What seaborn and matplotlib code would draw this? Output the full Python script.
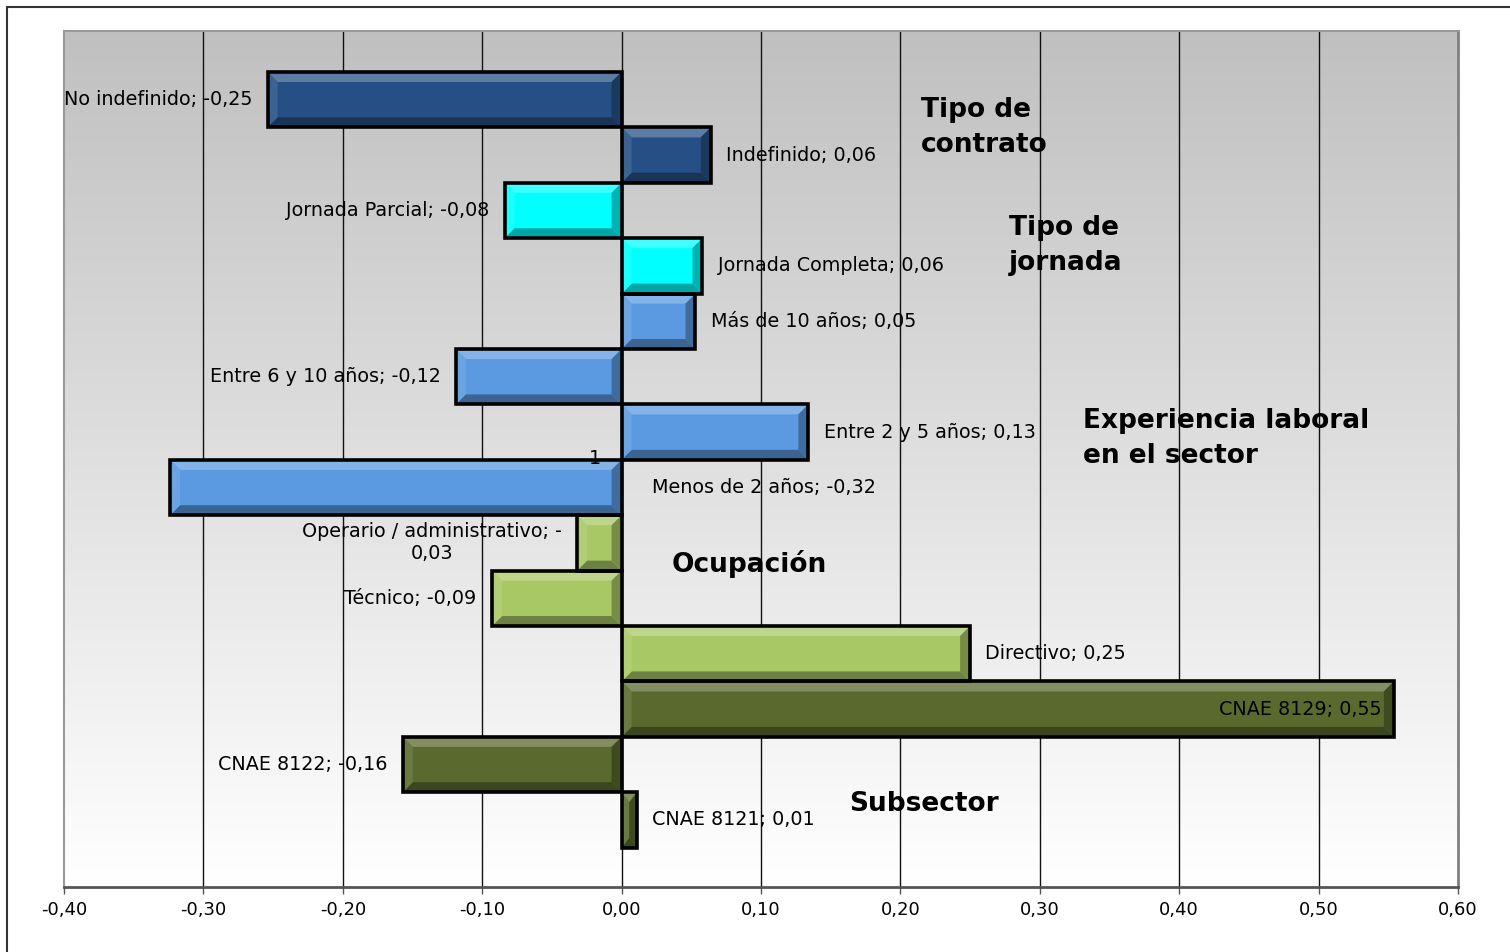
import numpy as np
import pandas as pd
import matplotlib
matplotlib.use("Agg")
import matplotlib.pyplot as plt
import matplotlib.colors as mcolors
from matplotlib.patches import Polygon, Rectangle
from matplotlib.ticker import FuncFormatter, MultipleLocator
import seaborn as sns

# Data
categories = ["No indefinido", "Indefinido", "Jornada Parcial", "Jornada Completa",
              "Más de 10 años", "Entre 6 y 10 años", "Entre 2 y 5 años", "Menos de 2 años",
              "Operario / administrativo", "Técnico", "Directivo",
              "CNAE 8129", "CNAE 8122", "CNAE 8121"]
values = [-0.254, 0.064, -0.084, 0.058, 0.053, -0.119, 0.134, -0.324,
          -0.032, -0.093, 0.250, 0.554, -0.157, 0.011]
groups = ["contrato", "contrato", "jornada", "jornada",
          "experiencia", "experiencia", "experiencia", "experiencia",
          "ocupacion", "ocupacion", "ocupacion",
          "subsector", "subsector", "subsector"]
group_titles = ["Tipo de\ncontrato", "Tipo de\njornada", "Experiencia laboral\nen el sector",
                "Ocupación", "Subsector"]
x_ticks = [-0.4, -0.3, -0.2, -0.1, 0.0, 0.1, 0.2, 0.3, 0.4, 0.5, 0.6]

# Styles
group_colors = {"contrato": "#265085", "jornada": "#00ffff", "experiencia": "#5b9ae0",
                "ocupacion": "#a8c866", "subsector": "#5a6a2e"}
# where each data label goes: out = beyond bar end, zero = right of zero line, in = inside end
label_pos = ["out", "out", "out", "out", "out", "out", "out", "zero",
             "out", "out", "out", "in", "out", "out"]
title_xy = [(0.215, 0.5), (0.278, 2.64), (0.331, 6.11), (0.036, 8.38), (0.163, 12.71)]

df = pd.DataFrame({"cat": categories, "val": values, "grp": groups})
df["text"] = [f"{c}; {v:.2f}".replace(".", ",") for c, v in zip(categories, values)]
df.loc[df["cat"] == "Operario / administrativo", "text"] = "Operario / administrativo; -\n0,03"
palette = {c: group_colors[g] for c, g in zip(categories, groups)}

sns.set_style("white")
plt.rcParams["font.family"] = ["DejaVu Sans"]
plt.rcParams["text.color"] = "black"
plt.rcParams["xtick.color"] = "black"
plt.rcParams["xtick.labelcolor"] = "black"

fig = plt.figure(figsize=(15.1, 9.52), dpi=100)
ax = fig.add_axes([64 / 1510, 1 - 887 / 952, (1458 - 64) / 1510, (887 - 31) / 952])

# gradient background
grad = np.linspace(0, 1, 256).reshape(-1, 1)
cmap = mcolors.LinearSegmentedColormap.from_list("bg", ["#c0c0c0", "#ffffff"])
ax.imshow(grad, extent=[0, 1, 0, 1], transform=ax.transAxes, aspect="auto",
          cmap=cmap, zorder=0)

sns.barplot(data=df, x="val", y="cat", hue="cat", palette=palette, orient="h",
            width=1.0, dodge=False, legend=False, edgecolor="none", ax=ax, zorder=2,
            saturation=1)

ax.set_xlim(-0.4, 0.6)
ax.set_ylim(len(categories) - 0.5 + 0.71, -0.5 - 0.74)
ax.set_xlabel("")
ax.set_ylabel("")
ax.set_yticks([])
ax.xaxis.set_major_locator(MultipleLocator(0.1))
ax.xaxis.set_major_formatter(FuncFormatter(lambda v, p: f"{v:.2f}".replace(".", ",")))
ax.tick_params(axis="x", direction="out", length=5, width=1, color="#555555",
               labelsize=13, pad=5, bottom=True, labelcolor="black")

# vertical grid
for xv in x_ticks[1:-1]:
    ax.axvline(xv, color="#111111", lw=1, zorder=1)

for s in ["left", "top"]:
    ax.spines[s].set_color("#999999")
    ax.spines[s].set_linewidth(1.5)
ax.spines["right"].set_color("#808080")
ax.spines["right"].set_linewidth(2)
ax.spines["bottom"].set_color("#555555")
ax.spines["bottom"].set_linewidth(2)

# bevel effect on bars
def mix(c, other, t):
    a = np.array(mcolors.to_rgb(c))
    b = np.array(mcolors.to_rgb(other))
    return tuple(a * (1 - t) + b * t)

inv = ax.transData.inverted()
bev = 10
for p, g in zip(ax.patches, groups):
    base = group_colors[g]
    (x0, y0), (x1, y1) = ax.transData.transform([(p.get_x(), p.get_y()),
                                                 (p.get_x() + p.get_width(), p.get_y() + p.get_height())])
    l, r = min(x0, x1), max(x0, x1)
    b_, t = min(y0, y1), max(y0, y1)
    bb = min(bev, (r - l) / 2)
    pieces = [
        ([(l, t), (r, t), (r - bb, t - bev), (l + bb, t - bev)], mix(base, "white", 0.25)),
        ([(l, b_), (r, b_), (r - bb, b_ + bev), (l + bb, b_ + bev)], mix(base, "black", 0.35)),
        ([(l, t), (l + bb, t - bev), (l + bb, b_ + bev), (l, b_)], mix(base, "white", 0.1)),
        ([(r, t), (r - bb, t - bev), (r - bb, b_ + bev), (r, b_)], mix(base, "black", 0.3)),
    ]
    for pts, col in pieces:
        ax.add_patch(Polygon(inv.transform(pts), closed=True, facecolor=col,
                             edgecolor="none", zorder=2.5))
    ax.add_patch(Rectangle((p.get_x(), p.get_y()), p.get_width(), p.get_height(),
                           fill=False, edgecolor="black", lw=2.6, zorder=3))

# data labels
for i, row in df.iterrows():
    v = row["val"]
    mode = label_pos[i]
    if mode == "zero":
        ax.annotate(row["text"], (0, i), xytext=(22, 0), textcoords="offset points",
                    ha="left", va="center", fontsize=13.8, zorder=4)
    elif mode == "in":
        ax.annotate(row["text"], (v, i), xytext=(-9, 0), textcoords="offset points",
                    ha="right", va="center", fontsize=13.8, zorder=4)
    else:
        sgn = 1 if v >= 0 else -1
        ax.annotate(row["text"], (v, i), xytext=(11 * sgn, 0), textcoords="offset points",
                    ha="left" if sgn > 0 else "right", va="center", fontsize=13.8,
                    multialignment="center", zorder=4)

# group titles
for txt, (tx, ty) in zip(group_titles, title_xy):
    ax.text(tx, ty, txt, ha="left", va="center", fontsize=19, fontweight="bold",
            linespacing=1.45, zorder=4)

# category label of the single category
ax.annotate("1", (0, 0.5), xycoords=("data", "axes fraction"), xytext=(-19, 0),
            textcoords="offset points", ha="center", va="center", fontsize=13.8, zorder=4)

# outer chart frame
fig.patches.append(Rectangle((7 / 1510, -0.1), 1.2, 1 - 7 / 952 + 0.1, fill=False,
                             edgecolor="#333333", lw=1.5, transform=fig.transFigure))

fig.savefig("out.png", dpi=100, facecolor="white")
